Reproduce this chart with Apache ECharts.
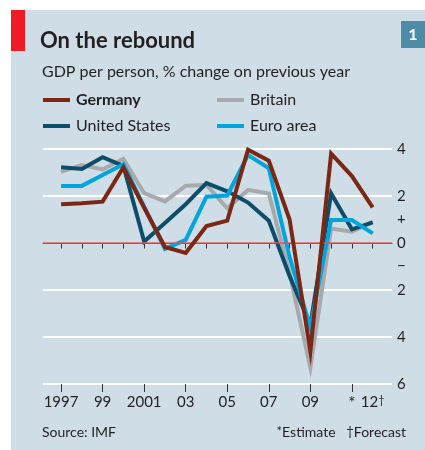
<!DOCTYPE html>
<html>
<head>
<meta charset="utf-8">
<script src="https://cdn.jsdelivr.net/npm/echarts@6/dist/echarts.min.js"></script>
<style>
html,body{margin:0;padding:0;background:#fff;}
#chart{width:425px;height:450px;}
</style>
</head>
<body>
<div id="chart"></div>
<script>
// data
var years = [1997,1998,1999,2000,2001,2002,2003,2004,2005,2006,2007,2008,2009,2010,2011,2012];
var germany = [1.65,1.69,1.76,3.22,1.5,-0.17,-0.42,0.72,0.95,3.97,3.5,1.0,-4.6,3.8,2.85,1.52];
var unitedStates = [3.22,3.15,3.65,3.28,0.06,0.85,1.65,2.55,2.2,1.72,0.95,-1.4,-3.5,2.11,0.58,0.88];
var britain = [3.03,3.32,3.13,3.58,2.12,1.77,2.44,2.47,1.48,2.26,2.11,-1.3,-5.3,0.62,0.48,0.9];
var euroArea = [2.43,2.43,2.89,3.35,1.55,-0.25,0.13,1.97,2.02,3.74,3.18,-0.6,-3.6,0.98,0.98,0.41];
var labelYears = [1997,1999,2001,2003,2005,2007,2009,2011,2012];
var yLabels = [4,2,1,0,-1,-2,-4,-6];

var chart = echarts.init(document.getElementById('chart'));

var font = 'Lato, "Open Sans", sans-serif';
var ink = '#231f20';

function pairs(vals){
    return years.map(function(y,i){ return [y, vals[i]]; });
}

function lineSeries(name, vals, color, z){
    return {
        name: name,
        type: 'line',
        data: pairs(vals),
        showSymbol: false,
        symbol: 'none',
        z: z,
        lineStyle: {color: color, width: 4, join: 'miter'},
        itemStyle: {color: color},
        emphasis: {disabled: true}
    };
}

function legendAt(name, left, top, bold){
    return {
        data: [name], left: left, top: top,
        icon: 'rect', itemWidth: 27, itemHeight: 4, itemGap: 0,
        padding: 0, selectedMode: false,
        textStyle: {fontFamily: font, fontSize: 16, color: ink, fontWeight: bold ? 'bold' : 'normal', padding: [0,0,0,1]}
    };
}

var option = {
    animation: false,
    backgroundColor: '#fff',
    graphic: [
        {type: 'rect', shape: {x: 11, y: 10, width: 414, height: 440}, style: {fill: '#cedde6'}, z: -10},
        {type: 'rect', shape: {x: 11, y: 10, width: 14, height: 41}, style: {fill: '#ed1c24'}, z: -9},
        {type: 'rect', shape: {x: 401, y: 21, width: 24, height: 27}, style: {fill: '#4d8ca7'}, z: -9},
        {type: 'text', x: 413, y: 35, style: {text: '1', fill: '#fff', font: 'bold 16px ' + font, textAlign: 'center', textVerticalAlign: 'middle'}}
    ],
    title: [
        {text: 'On the rebound', left: 40, top: 30, padding: 0,
         textStyle: {fontFamily: font, fontSize: 22, fontWeight: 'bold', color: ink}},
        {text: 'GDP per person, % change on previous year', left: 42, top: 64, padding: 0,
         textStyle: {fontFamily: font, fontSize: 16, fontWeight: 'normal', color: ink}},
        {text: 'Source: IMF', left: 42, top: 425, padding: 0,
         textStyle: {fontFamily: font, fontSize: 14, fontWeight: 'normal', color: ink}},
        {text: '{s|*}Estimate   {s|†}Forecast', right: 19, top: 425, padding: 0,
         textStyle: {fontFamily: font, fontSize: 14, fontWeight: 'normal', color: ink,
            rich: {s: {fontFamily: font, fontSize: 13, color: ink, verticalAlign: 'top', lineHeight: 12}}}}
    ],
    legend: [
        legendAt('Germany', 43, 92, true),
        legendAt('Britain', 217, 92, false),
        legendAt('United States', 43, 118, false),
        legendAt('Euro area', 217, 118, false)
    ],
    grid: {left: 43, right: 33, top: 149, bottom: 66},
    xAxis: [{
        type: 'value', min: 1996.13, max: 2012.93,
        axisLine: {show: true, lineStyle: {color: '#333', width: 1}},
        axisTick: {show: true, customValues: years, length: 5.5, lineStyle: {color: '#333', width: 1}},
        axisLabel: {
            customValues: labelYears, margin: 11,
            fontFamily: font, fontSize: 15, color: ink,
            formatter: function(v){
                if (v === 2011) return '{a|*}';
                if (v === 2012) return '12{d|†}';
                if (v === 1997 || v === 2001) return String(v);
                return String(v).slice(2);
            },
            rich: {
                a: {fontFamily: font, fontSize: 17, color: ink, padding: [0,0,6,0]},
                d: {fontFamily: font, fontSize: 11, color: ink, verticalAlign: 'top', lineHeight: 12}
            }
        },
        splitLine: {show: false}
    }, {
        type: 'value', min: 1996.13, max: 2012.93, position: 'bottom',
        axisLine: {show: false},
        axisTick: {show: true, customValues: labelYears.slice(0, 8), length: 8, lineStyle: {color: '#333', width: 1}},
        axisLabel: {show: false},
        splitLine: {show: false}
    }],
    yAxis: {
        type: 'value', min: -6, max: 4, interval: 2, position: 'right',
        axisLine: {show: false}, axisTick: {show: false},
        axisLabel: {
            customValues: yLabels, margin: 5, align: 'left',
            fontFamily: font, fontSize: 15, color: ink,
            formatter: function(v){
                if (v === 1) return '+';
                if (v === -1) return '−';
                return String(Math.abs(v));
            }
        },
        splitLine: {show: true, lineStyle: {color: '#fff', width: 2}}
    },
    series: [
        {
            type: 'line', data: [], silent: true, z: 1,
            markLine: {
                silent: true, symbol: 'none', label: {show: false},
                lineStyle: {color: '#d9575e', width: 1.5, type: 'solid'},
                data: [{yAxis: 0}]
            }
        },
        lineSeries('Britain', britain, '#a7a9ac', 2),
        lineSeries('United States', unitedStates, '#0c4e69', 3),
        lineSeries('Euro area', euroArea, '#00a5de', 4),
        lineSeries('Germany', germany, '#7b2713', 5)
    ]
};

chart.setOption(option);
</script>
</body>
</html>
